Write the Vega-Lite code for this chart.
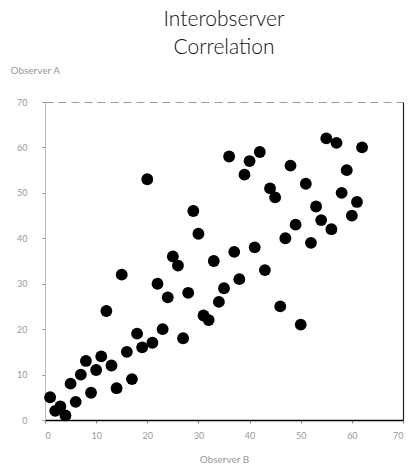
{
  "$schema": "https://vega.github.io/schema/vega-lite/v6.json",
  "autosize": "none",
  "width": 358,
  "height": 318,
  "padding": {"left": 45, "top": 102, "right": 9, "bottom": 54},
  "background": "white",
  "title": {
    "text": ["Interobserver", "Correlation"],
    "font": "Lato",
    "fontWeight": 300,
    "fontSize": 21,
    "color": "#111",
    "lineHeight": 28,
    "anchor": "middle",
    "offset": 7
  },
  "config": {
    "view": {"stroke": null},
    "axis": {"grid": false, "labelFont": "Lato", "titleFont": "Lato", "labelColor": "#999", "titleColor": "#999", "titleFontWeight": "normal", "labelFontSize": 9, "titleFontSize": 10}
  },
  "data": {"values": [
    {"b": 20, "a": 53}, {"b": 36, "a": 58}, {"b": 40, "a": 57}, {"b": 42, "a": 59}, {"b": 39, "a": 54},
    {"b": 55, "a": 62}, {"b": 57, "a": 61}, {"b": 62, "a": 60}, {"b": 48, "a": 56}, {"b": 59, "a": 55},
    {"b": 44, "a": 51}, {"b": 45, "a": 49}, {"b": 51, "a": 52}, {"b": 58, "a": 50}, {"b": 61, "a": 48},
    {"b": 53, "a": 47}, {"b": 60, "a": 45}, {"b": 54, "a": 44}, {"b": 56, "a": 42}, {"b": 49, "a": 43},
    {"b": 47, "a": 40}, {"b": 52, "a": 39}, {"b": 29, "a": 46}, {"b": 30, "a": 41}, {"b": 41, "a": 38},
    {"b": 37, "a": 37}, {"b": 25, "a": 36}, {"b": 33, "a": 35}, {"b": 26, "a": 34}, {"b": 15, "a": 32},
    {"b": 43, "a": 33}, {"b": 22, "a": 30}, {"b": 38, "a": 31}, {"b": 24, "a": 27}, {"b": 28, "a": 28},
    {"b": 35, "a": 29}, {"b": 34, "a": 26}, {"b": 12, "a": 24}, {"b": 46, "a": 25}, {"b": 31, "a": 23},
    {"b": 32, "a": 22}, {"b": 50, "a": 21}, {"b": 23, "a": 20}, {"b": 18, "a": 19}, {"b": 27, "a": 18},
    {"b": 21, "a": 17}, {"b": 19, "a": 16}, {"b": 16, "a": 15}, {"b": 11, "a": 14}, {"b": 8, "a": 13},
    {"b": 13, "a": 12}, {"b": 10, "a": 11}, {"b": 7, "a": 10}, {"b": 5, "a": 8}, {"b": 17, "a": 9},
    {"b": 14, "a": 7}, {"b": 9, "a": 6}, {"b": 6, "a": 4}, {"b": 1, "a": 5}, {"b": 3, "a": 3},
    {"b": 2, "a": 2}, {"b": 4, "a": 1}
  ]},
  "layer": [
    {
      "mark": {"type": "point", "filled": true, "color": "#000", "opacity": 1, "size": 140},
      "encoding": {
        "x": {"field": "b", "type": "quantitative", "scale": {"domain": [0, 70]},
          "axis": {"orient": "bottom", "values": [0,10,20,30,40,50,60,70], "title": "Observer B", "domainColor": "#000", "domainWidth": 1.5, "tickColor": "#888", "tickSize": 3, "labelPadding": 8, "titlePadding": 14}},
        "y": {"field": "a", "type": "quantitative", "scale": {"domain": [0, 70]},
          "axis": {"orient": "left", "values": [0,10,20,30,40,50,60,70], "title": "Observer A", "titleAngle": 0, "titleAlign": "left", "titleBaseline": "middle", "titleX": -35, "titleY": -32, "domainColor": "#bbb", "tickColor": "#888", "tickSize": 3, "labelPadding": 15}}
      }
    },
    {
      "mark": {"type": "point", "filled": true, "opacity": 0},
      "encoding": {
        "x": {"field": "b", "type": "quantitative", "scale": {"domain": [0, 70]},
          "axis": {"orient": "top", "labels": false, "ticks": false, "title": null, "domainColor": "#999", "domainDash": [8, 5]}},
        "y": {"field": "a", "type": "quantitative", "scale": {"domain": [0, 70]},
          "axis": {"orient": "right", "labels": false, "ticks": false, "title": null, "domainColor": "#222", "domainWidth": 1.2}}
      }
    }
  ],
  "resolve": {"axis": {"x": "independent", "y": "independent"}}
}
